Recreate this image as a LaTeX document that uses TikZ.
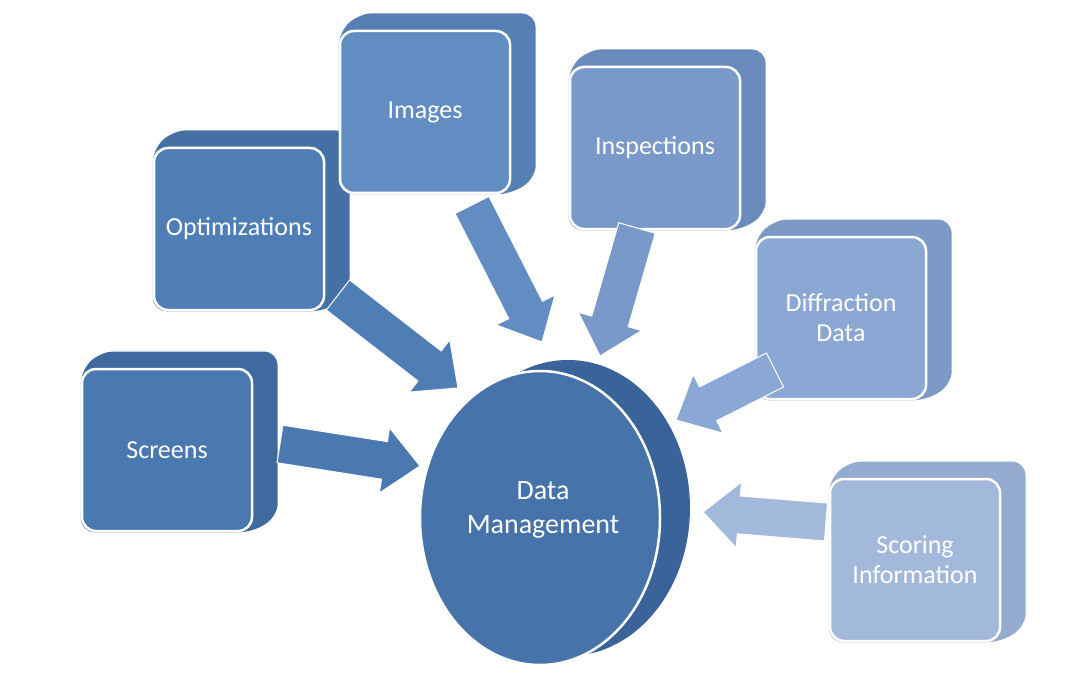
\documentclass[tikz,border=0pt]{standalone}
\usepackage{fontspec}
\setmainfont{Carlito}
\usetikzlibrary{calc}
\tikzset{
 box/.style={draw=white, line width=2.5pt, rounded corners=14pt, minimum width=170pt, minimum height=162pt, text=white, font=\fontsize{26}{30}\selectfont, align=center, fill=#1},
}
\newcommand\side[3]{% node, color, dummy
 \fill[#2, rounded corners=14pt] ($(#1.north west)+(0,2)$) -- ($(#1.north west)+(22,-17)$) -- ($(#1.north east)+(25,-17)$) -- ($(#1.south east)+(25,-17)$) -- ($(#1.south east)+(0,0)$) -- ($(#1.south west)$) -- cycle;
 \draw[white, line width=1.5pt, rounded corners=14pt] ($(#1.north west)+(22,-17)$) -- ($(#1.north east)+(25,-17)$) -- ($(#1.south east)+(25,-17)$);
}
\newcommand\barrow[3]{% start, end, color
 \coordinate (h) at ($(#2)!36pt!(#1)$);
 \fill[#3, draw=white, line width=1pt] ($(#1)!19pt!90:(#2)$) -- ($(h)!19pt!-90:(#1)$) -- ($(h)!33pt!-90:(#1)$) -- (#2) -- ($(h)!33pt!90:(#1)$) -- ($(h)!19pt!90:(#1)$) -- ($(#1)!19pt!-90:(#2)$) -- cycle;
}
\begin{document}
\begin{tikzpicture}[x=1pt,y=-1pt]
\useasboundingbox[fill=white] (0,0) rectangle (1077,698);
\definecolor{c1}{HTML}{4A78B0}\definecolor{d1}{HTML}{3F6AA0}
\definecolor{c2}{HTML}{4F7EB7}\definecolor{d2}{HTML}{4470A6}
\definecolor{c3}{HTML}{628DC3}\definecolor{d3}{HTML}{577FB3}
\definecolor{c4}{HTML}{7899CA}\definecolor{d4}{HTML}{6B8BBC}
\definecolor{c5}{HTML}{8AA8D3}\definecolor{d5}{HTML}{7D9AC6}
\definecolor{c6}{HTML}{A3B9DC}\definecolor{d6}{HTML}{95ABD0}
\definecolor{cc}{HTML}{4573AA}\definecolor{dc}{HTML}{3A6499}
% circle
\fill[dc] (568,508) ellipse [x radius=122, y radius=148];
\fill[dc] (540,372) -- (565,360) -- (568,656) -- (540,665) -- cycle;
\fill[cc, draw=white, line width=2.5pt] (540,518) ellipse [x radius=120, y radius=147];
\node[text=white, align=center, font=\fontsize{28}{34}\selectfont] (dm) at (543,510) {Data\\Management};
% boxes
\node[box=c1] (s) at (167,450) {}; \side{s}{d1}{} \node[box=c1] (s) at (167,450) {Screens};
\node[box=c2] (o) at (239,229) {}; \side{o}{d2}{} \node[box=c2] (o) at (239,229) {Optimizations};
\node[box=c3] (i) at (425,112) {}; \side{i}{d3}{} \node[box=c3] (i) at (425,112) {Images};
\node[box=c4] (p) at (655,148) {}; \side{p}{d4}{} \node[box=c4] (p) at (655,148) {Inspections};
\node[box=c5] (f) at (841,318) {}; \side{f}{d5}{} \node[box=c5] (f) at (841,318) {Diffraction\\Data};
\node[box=c6] (g) at (915,560) {}; \side{g}{d6}{} \node[box=c6] (g) at (915,560) {Scoring\\Information};
% arrows
\coordinate (a1) at (280,444); \coordinate (b1) at (420,466);
\coordinate (a2) at (338,295); \coordinate (b2) at (458,388);
\coordinate (a3) at (472,205); \coordinate (b3) at (542,342);
\coordinate (a4) at (637,228); \coordinate (b4) at (600,356);
\coordinate (a5) at (775,370); \coordinate (b5) at (676,420);
\coordinate (a6) at (826,522); \coordinate (b6) at (703,512);
\barrow{a1}{b1}{c1}
\barrow{a2}{b2}{c2}
\barrow{a3}{b3}{c3}
\barrow{a4}{b4}{c4}
\barrow{a5}{b5}{c5}
\barrow{a6}{b6}{c6}
\end{tikzpicture}
\end{document}
